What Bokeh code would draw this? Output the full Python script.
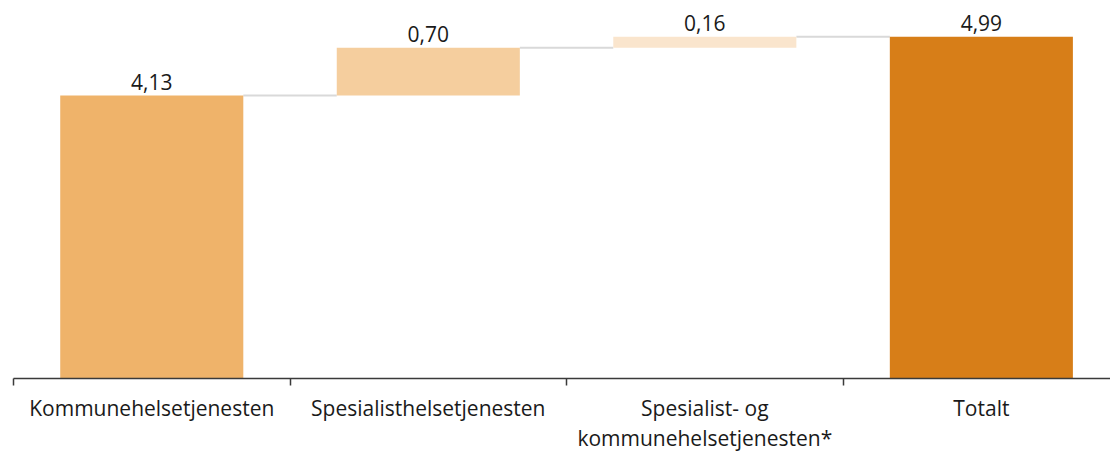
from bokeh.plotting import figure
from bokeh.models import Range1d, FixedTicker, ColumnDataSource
from bokeh.core.properties import value
from bokeh.embed import file_html
from bokeh.resources import INLINE

categories = ["Kommunehelsetjenesten", "Spesialisthelsetjenesten",
              "Spesialist- og\nkommunehelsetjenesten*", "Totalt"]
steps = [4.13, 0.70, 0.16]
total = 4.99
colors = ["#EFB36A", "#F5CE9E", "#FAE5CD", "#D77E18"]

# waterfall geometry from the values
bottoms, tops = [], []
run = 0.0
for s in steps:
    bottoms.append(run)
    run += s
    tops.append(run)
bottoms.append(0.0)
tops.append(total)
vals = steps + [total]
labels = [f"{v:.2f}".replace(".", ",") for v in vals]
xs = [i + 0.5 for i in range(len(categories))]

W, H = 1110, 455
p = figure(width=W, height=H, output_backend="svg", toolbar_location=None,
           x_range=Range1d(0, 3.967), y_range=Range1d(0, 5.518),
           min_border_left=13, min_border_right=0, min_border_top=0,
           min_border_bottom=76, y_axis_location=None)
p.outline_line_color = None
p.grid.visible = False
p.background_fill_color = "white"
p.border_fill_color = "white"

bw = 0.662
src = ColumnDataSource(dict(x=xs, bottom=bottoms, top=tops, color=colors, label=labels))

# connectors
cx0 = [xs[i] + bw / 2 for i in range(len(xs) - 1)]
cx1 = [xs[i + 1] - bw / 2 for i in range(len(xs) - 1)]
cy = [tops[i] for i in range(len(xs) - 1)]
p.segment(x0=cx0, y0=cy, x1=cx1, y1=cy, line_color="#D9D9D9", line_width=2)

p.vbar(x="x", bottom="bottom", top="top", width=bw, fill_color="color",
       line_color=None, source=src)

p.text(x="x", y="top", text="label", source=src, text_align="center",
       text_baseline="bottom", y_offset=-6, text_font=value("Open Sans"),
       text_font_size="21px", text_color="#1a1a1a")

ax = p.xaxis[0]
ax.ticker = FixedTicker(ticks=xs, minor_ticks=[0, 1, 2, 3])
ax.major_label_overrides = {x: c for x, c in zip(xs, categories)}
ax.major_tick_out = 0
ax.major_tick_in = 0
ax.minor_tick_out = 7
ax.minor_tick_in = 0
ax.minor_tick_line_color = "#3a3a3a"
ax.minor_tick_line_width = 1.5
ax.axis_line_color = "#3a3a3a"
ax.axis_line_width = 1.5
ax.major_label_standoff = 8
ax.major_label_text_font = "Open Sans"
ax.major_label_text_font_size = "21px"
ax.major_label_text_color = "#1a1a1a"
ax.major_label_text_line_height = 1.1

open("out.html", "w").write(file_html(p, INLINE))
